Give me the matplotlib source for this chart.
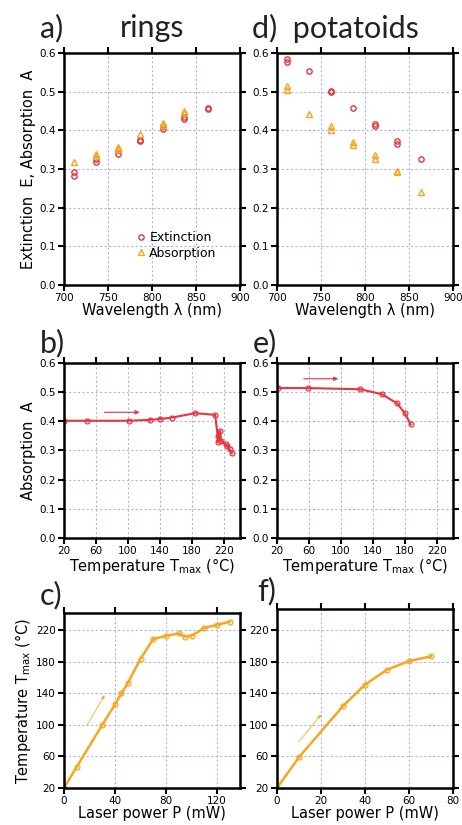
import matplotlib
matplotlib.use("Agg")
import matplotlib.pyplot as plt

# panel a) rings: extinction / absorption vs wavelength (two runs per wavelength)
wl_ext_rings = [711, 711, 736, 736, 761, 761, 786, 786, 812, 812, 836, 836, 864, 864]
ext_rings = [0.291, 0.283, 0.327, 0.318, 0.348, 0.338, 0.376, 0.372, 0.412, 0.403, 0.434, 0.430, 0.459, 0.455]
wl_abs_rings = [711, 736, 736, 761, 761, 786, 812, 812, 836, 836]
abs_rings = [0.317, 0.339, 0.333, 0.358, 0.352, 0.390, 0.420, 0.414, 0.450, 0.444]

# panel d) potatoids
wl_ext_pot = [711, 711, 736, 761, 761, 786, 811, 811, 836, 836, 864]
ext_pot = [0.585, 0.576, 0.554, 0.503, 0.499, 0.458, 0.417, 0.410, 0.372, 0.364, 0.327]
wl_abs_pot = [711, 711, 736, 761, 761, 786, 786, 811, 811, 836, 836, 864]
abs_pot = [0.514, 0.505, 0.443, 0.412, 0.402, 0.370, 0.363, 0.337, 0.326, 0.294, 0.292, 0.240]

# panel b) rings: absorption vs Tmax
t_rings = [20, 49, 101, 127, 140, 155, 184, 209, 212, 212, 215, 216, 222, 224, 227, 230]
a_rings = [0.402, 0.402, 0.402, 0.405, 0.408, 0.413, 0.428, 0.422, 0.351, 0.328, 0.367, 0.334, 0.321, 0.316, 0.305, 0.291]

# panel e) potatoids
t_pot = [21, 59, 124, 151, 170, 180, 187]
a_pot = [0.514, 0.514, 0.510, 0.493, 0.462, 0.427, 0.390]

# panel c) rings: Tmax vs laser power
p_rings = [0, 10, 30, 40, 45, 50, 60, 70, 80, 90, 95, 100, 110, 120, 130]
tm_rings = [20, 47, 100, 126, 140, 153, 184, 209, 213, 216, 212, 213, 223, 227, 231]

# panel f) potatoids
p_pot = [0, 10, 30, 40, 50, 60, 70]
tm_pot = [20, 59, 124, 151, 170, 181, 187]

RED = "#e8343c"
ORANGE = "#f6a71f"
GRID = "#aab6e6"

fig = plt.figure(figsize=(4.62, 8.25), dpi=100)
W, H = 462, 825


def add_ax(left, top, right, bottom):
    return fig.add_axes([left / W, 1 - bottom / H, (right - left) / W, (bottom - top) / H])


def style(ax):
    for s in ax.spines.values():
        s.set_linewidth(1.8)
    ax.tick_params(direction="out", length=4, width=1.5, labelsize=7.5,
                   top=True, right=True, pad=2)
    ax.grid(True, color=GRID, linestyle=(0, (2, 2)), linewidth=0.8)
    ax.set_axisbelow(True)


def scatter_pair(ax, xe, ye, xa, ya, legend=False):
    ax.plot(xe, ye, "o", ms=3.8, mfc="none", mec=RED, mew=1.0, label="Extinction")
    ax.plot(xa, ya, "^", ms=3.8, mfc="none", mec=ORANGE, mew=1.0, label="Absorption")
    ax.set_xlim(700, 900)
    ax.set_ylim(0, 0.6)
    ax.set_xticks([700, 750, 800, 850, 900])
    ax.set_yticks([0, 0.1, 0.2, 0.3, 0.4, 0.5, 0.6])
    ax.set_xlabel("Wavelength λ (nm)", fontsize=10.5, labelpad=0)
    if legend:
        ax.legend(loc="lower center", bbox_to_anchor=(0.63, 0.06), frameon=False,
                  fontsize=9, handletextpad=0.1, labelspacing=0.2, handlelength=1.2)


lab = dict(fontsize=22, fontfamily="Lato", fontweight="normal", color="#222222")

# row 1
ax_a = add_ax(64, 53, 240, 285)
style(ax_a)
scatter_pair(ax_a, wl_ext_rings, ext_rings, wl_abs_rings, abs_rings, legend=True)
ax_a.set_ylabel("Extinction  E, Absorption  A", fontsize=10.5, labelpad=2)

ax_d = add_ax(277, 53, 453, 285)
style(ax_d)
scatter_pair(ax_d, wl_ext_pot, ext_pot, wl_abs_pot, abs_pot)

fig.text(40 / W, 1 - 28 / H, "a)", va="center", ha="left", **lab)
fig.text(152 / W, 1 - 28 / H, "rings", va="center", ha="center", **lab)
fig.text(252 / W, 1 - 28 / H, "d)  potatoids", va="center", ha="left", **lab)

# row 2
tlabel = "Temperature T$_\\mathrm{max}$ (°C)"
for left, right, t, a, arrow, letter in [
    (64, 240, t_rings, a_rings, (67, 118, 0.431), "b)"),
    (277, 453, t_pot, a_pot, (50, 100, 0.546), "e)"),
]:
    ax = add_ax(left, 363, right, 538)
    style(ax)
    ax.plot(t, a, "-o", color=RED, lw=1.5, ms=3.5, mfc="none", mew=0.9)
    ax.annotate("", xy=(arrow[1], arrow[2]), xytext=(arrow[0], arrow[2]),
                arrowprops=dict(arrowstyle="-|>", color=RED, lw=0.8,
                                mutation_scale=6))
    ax.set_xlim(20, 240)
    ax.set_ylim(0, 0.6)
    ax.set_xticks([20, 60, 100, 140, 180, 220])
    ax.set_yticks([0, 0.1, 0.2, 0.3, 0.4, 0.5, 0.6])
    ax.set_xlabel(tlabel, fontsize=10.5, labelpad=0)
    if letter == "b)":
        ax.set_ylabel("Absorption  A", fontsize=10.5, labelpad=2)
        fig.text(40 / W, 1 - 343 / H, letter, va="center", ha="left", **lab)
    else:
        fig.text(253 / W, 1 - 343 / H, letter, va="center", ha="left", **lab)

# row 3
for left, right, top, p, tm, xmax, ymax, xt, arrow, letter, lx in [
    (64, 240, 613, p_rings, tm_rings, 138, 242, [0, 40, 80, 120],
     (16.7, 96, 33, 141), "c)", 40),
    (277, 453, 609, p_pot, tm_pot, 80, 247, [0, 20, 40, 60, 80],
     (9.1, 76, 20.9, 116), "f)", 257),
]:
    ax = add_ax(left, top, right, 788)
    style(ax)
    ax.plot(p, tm, "-o", color=ORANGE, lw=1.8, ms=3.5, mfc="none", mew=0.9)
    ax.annotate("", xy=(arrow[2], arrow[3]), xytext=(arrow[0], arrow[1]),
                arrowprops=dict(arrowstyle="-|>", color=ORANGE, lw=0.7,
                                mutation_scale=5, alpha=0.8))
    ax.set_xlim(0, xmax)
    ax.set_ylim(20, ymax)
    ax.set_xticks(xt)
    ax.set_yticks([20, 60, 100, 140, 180, 220])
    ax.set_xlabel("Laser power P (mW)", fontsize=10.5, labelpad=0)
    if letter == "c)":
        ax.set_ylabel(tlabel, fontsize=10.5, labelpad=2)
    fig.text(lx / W, 1 - (top - 18) / H, letter, va="center", ha="left", **lab)

fig.savefig("out.png", dpi=100)
